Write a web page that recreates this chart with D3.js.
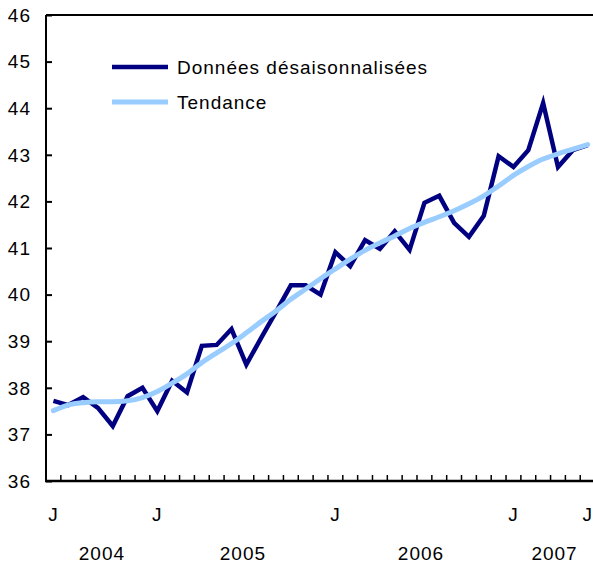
<!DOCTYPE html>
<html>
<head>
<meta charset="utf-8">
<script src="https://cdn.jsdelivr.net/npm/d3@7"></script>
<style>
  body { margin: 0; background: #fff; }
  svg text { font-family: "Liberation Sans", Arial, Helvetica, sans-serif; fill: #000; letter-spacing: 1px; }
</style>
</head>
<body>
<svg id="chart" width="593" height="565"></svg>
<script>
// months from June 2004 to June 2007
var months = ["2004-06","2004-07","2004-08","2004-09","2004-10","2004-11","2004-12",
  "2005-01","2005-02","2005-03","2005-04","2005-05","2005-06","2005-07","2005-08","2005-09","2005-10","2005-11","2005-12",
  "2006-01","2006-02","2006-03","2006-04","2006-05","2006-06","2006-07","2006-08","2006-09","2006-10","2006-11","2006-12",
  "2007-01","2007-02","2007-03","2007-04","2007-05","2007-06"];

var seasAdj = [37.72, 37.63, 37.80, 37.57, 37.18, 37.82, 38.00, 37.50, 38.15, 37.90,
  38.90, 38.92, 39.26, 38.50, 39.07, 39.63, 40.20, 40.20, 40.00, 40.91,
  40.61, 41.17, 40.98, 41.36, 40.96, 41.97, 42.12, 41.54, 41.24, 41.69,
  42.97, 42.74, 43.10, 44.11, 42.74, 43.10, 43.21];

var trend = [37.51, 37.63, 37.68, 37.70, 37.70, 37.72, 37.79, 37.92, 38.10, 38.30,
  38.54, 38.75, 38.95, 39.18, 39.42, 39.65, 39.90, 40.12, 40.34, 40.55,
  40.76, 40.95, 41.11, 41.26, 41.42, 41.55, 41.67, 41.80, 41.95, 42.12,
  42.33, 42.56, 42.75, 42.91, 43.02, 43.12, 43.22];

var yTicks = [36, 37, 38, 39, 40, 41, 42, 43, 44, 45, 46];
var labeledMonths = ["2004-06", "2005-01", "2006-01", "2007-01", "2007-06"];
var years = ["2004", "2005", "2006", "2007"];
var seriesNames = ["Données désaisonnalisées", "Tendance"];

var colDark = "#000080";
var colLight = "#99ccff";

var svg = d3.select("#chart");
var plotLeft = 46, plotTop = 15, plotBottom = 481;
var bw = 14.84;

var x = d3.scaleBand()
    .domain(months)
    .range([plotLeft, plotLeft + months.length * bw])
    .paddingInner(0).paddingOuter(0);

var y = d3.scaleLinear().domain([36, 46]).range([plotBottom, plotTop]);

function cx(m) { return x(m) + x.bandwidth() / 2; }

// top border line
svg.append("line")
    .attr("x1", plotLeft).attr("x2", 593)
    .attr("y1", y(46)).attr("y2", y(46))
    .attr("stroke", "#000").attr("stroke-width", 2);

// y axis, ticks inward
var yAxis = svg.append("g")
    .attr("transform", "translate(" + plotLeft + ",0)")
    .call(d3.axisRight(y).tickValues(yTicks).tickSize(6).tickFormat(""));
yAxis.select(".domain").attr("stroke-width", 2).attr("d", "M0," + plotTop + "V" + plotBottom);
yAxis.selectAll(".tick line").attr("stroke-width", 2);

svg.append("g").selectAll("text").data(yTicks).enter().append("text")
    .attr("x", 31)
    .attr("y", function(d) { return y(d); })
    .attr("dy", "0.36em")
    .attr("text-anchor", "end")
    .attr("font-size", 19)
    .text(function(d) { return d; });

// x axis: ticks on month boundaries pointing up
var boundaries = months.slice(1).map(function(m) { return x(m); });
svg.append("g").selectAll("line").data(boundaries).enter().append("line")
    .attr("x1", function(d) { return d; }).attr("x2", function(d) { return d; })
    .attr("y1", plotBottom).attr("y2", plotBottom - 6)
    .attr("stroke", "#000").attr("stroke-width", 1.5);

svg.append("line")
    .attr("x1", plotLeft - 1).attr("x2", 593)
    .attr("y1", plotBottom).attr("y2", plotBottom)
    .attr("stroke", "#000").attr("stroke-width", 2.5);

svg.append("g").selectAll("text").data(labeledMonths).enter().append("text")
    .attr("x", function(d) { return cx(d); })
    .attr("y", 521)
    .attr("text-anchor", "middle")
    .attr("font-size", 19)
    .text("J");

svg.append("g").selectAll("text").data(years).enter().append("text")
    .attr("x", function(d) {
        var ms = months.filter(function(m) { return m.slice(0, 4) === d; });
        return (cx(ms[0]) + cx(ms[ms.length - 1])) / 2 + 4;
    })
    .attr("y", 560)
    .attr("text-anchor", "middle")
    .attr("font-size", 19)
    .text(function(d) { return d; });

// lines
var line = d3.line()
    .x(function(d, i) { return cx(months[i]); })
    .y(function(d) { return y(d); });

svg.append("path").datum(seasAdj)
    .attr("d", line)
    .attr("fill", "none")
    .attr("stroke", colDark)
    .attr("stroke-width", 4.5)
    .attr("stroke-linejoin", "miter");

svg.append("path").datum(trend)
    .attr("d", line.curve(d3.curveMonotoneX))
    .attr("fill", "none")
    .attr("stroke", colLight)
    .attr("stroke-width", 5)
    .attr("stroke-linecap", "round");

// legend
var legend = svg.append("g");
[colDark, colLight].forEach(function(c, i) {
    var ly = 67 + i * 35;
    legend.append("line")
        .attr("x1", 112).attr("x2", 168)
        .attr("y1", ly).attr("y2", ly)
        .attr("stroke", c).attr("stroke-width", i === 0 ? 4.5 : 5);
    legend.append("text")
        .attr("x", 177).attr("y", ly)
        .attr("dy", "0.36em")
        .attr("font-size", 19)
        .text(seriesNames[i]);
});
</script>
</body>
</html>
